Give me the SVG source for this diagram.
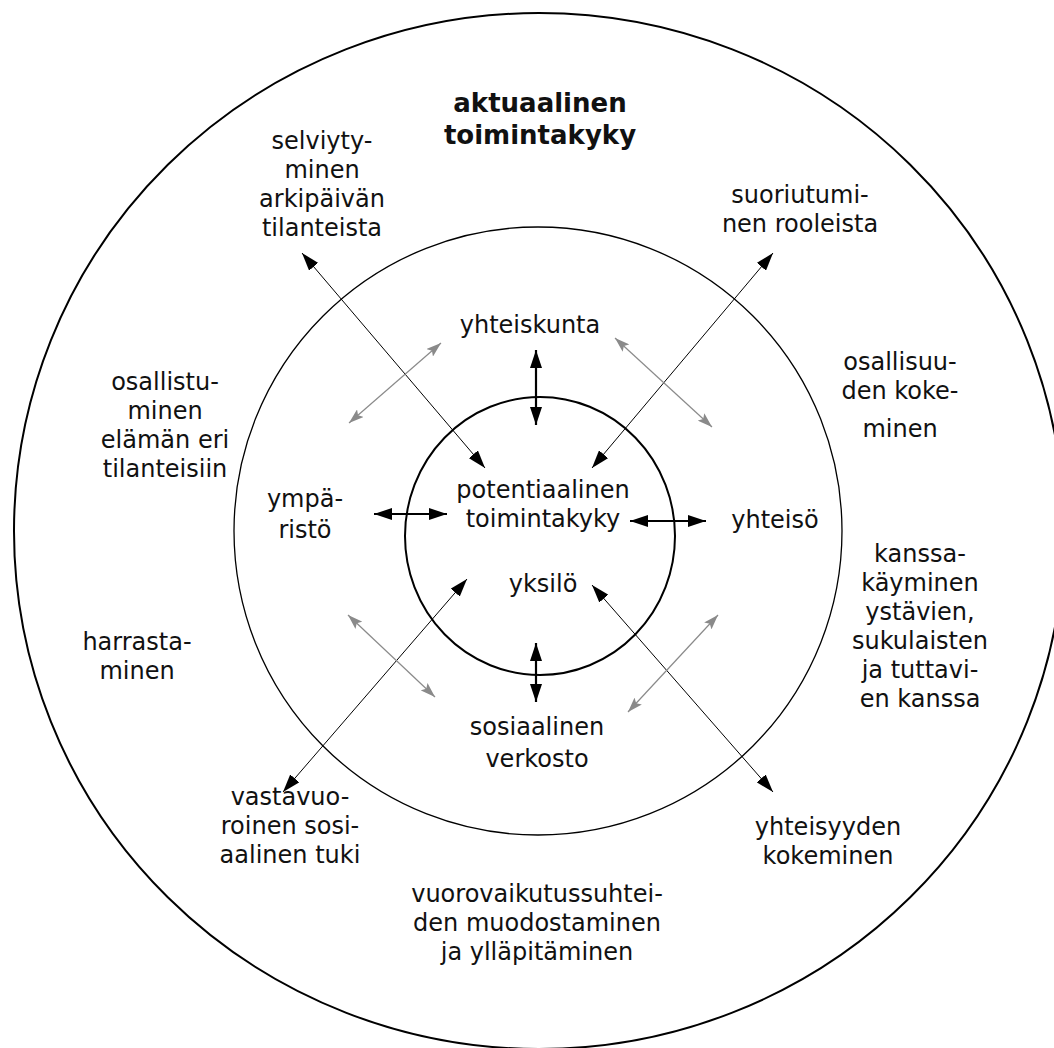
<svg xmlns="http://www.w3.org/2000/svg" width="1054" height="1048" viewBox="0 0 1054 1048">
<style>
text{font-family:"DejaVu Sans","Liberation Sans",sans-serif;font-size:24px;fill:#111;text-anchor:middle}
.title{font-weight:bold;font-size:26px}
.ring{fill:none;stroke:#000}
.blk{stroke:#000;stroke-width:1;fill:none;marker-start:url(#hb);marker-end:url(#hb)}
.thick{stroke:#000;stroke-width:2.2;fill:none;marker-start:url(#hb);marker-end:url(#hb)}
.gry{stroke:#8a8a8a;stroke-width:1.2;fill:none;marker-start:url(#hg);marker-end:url(#hg)}
</style>
<defs>
<marker id="hb" viewBox="0 0 18 12" refX="18" refY="6" markerWidth="18" markerHeight="12" markerUnits="userSpaceOnUse" orient="auto-start-reverse"><path d="M0,0 L18,6 L0,12 z" fill="#000"/></marker>
<marker id="hg" viewBox="0 0 15 10" refX="15" refY="5" markerWidth="15" markerHeight="10" markerUnits="userSpaceOnUse" orient="auto-start-reverse"><path d="M0,0 L15,5 L0,10 L3,5 z" fill="#8a8a8a"/></marker>
</defs>
<rect width="1054" height="1048" fill="#fff"/>
<g id="rings">
<ellipse id="outer" class="ring" cx="539" cy="531" rx="525" ry="518" stroke-width="2"/>
<circle id="middle" class="ring" cx="538" cy="531" r="304" stroke-width="1.3"/>
<ellipse id="inner" class="ring" cx="540" cy="536" rx="135" ry="139" stroke-width="2"/>
</g>
<g id="connectors">
<line class="blk" x1="302" y1="253" x2="485" y2="468"/>
<line class="blk" x1="773" y1="253" x2="592" y2="468"/>
<line class="blk" x1="467" y1="579" x2="283" y2="792"/>
<line class="blk" x1="592" y1="585" x2="773" y2="792"/>
<line class="thick" x1="536" y1="350" x2="536" y2="425"/>
<line class="thick" x1="536" y1="643" x2="536" y2="702"/>
<line class="thick" x1="374" y1="514" x2="447" y2="514"/>
<line class="thick" x1="630" y1="521" x2="706" y2="521"/>
<line class="gry" x1="349" y1="423" x2="441" y2="343"/>
<line class="gry" x1="615" y1="338" x2="712" y2="427"/>
<line class="gry" x1="348" y1="615" x2="435" y2="697"/>
<line class="gry" x1="718" y1="615" x2="628" y2="712"/>
</g>
<g id="n-aktuaalinen"><text class="title" x="540" y="112">aktuaalinen</text><text class="title" x="540" y="144">toimintakyky</text></g>
<g id="n-selviytyminen"><text x="322" y="149">selviyty-</text><text x="322" y="178">minen</text><text x="322" y="207">arkipäivän</text><text x="322" y="236">tilanteista</text></g>
<g id="n-suoriutuminen"><text x="800" y="203">suoriutumi-</text><text x="800" y="232">nen rooleista</text></g>
<g id="n-yhteiskunta"><text x="530" y="333">yhteiskunta</text></g>
<g id="n-osallistuminen"><text x="165" y="390">osallistu-</text><text x="165" y="419">minen</text><text x="165" y="448">elämän eri</text><text x="165" y="477">tilanteisiin</text></g>
<g id="n-osallisuus"><text x="900" y="370">osallisuu-</text><text x="900" y="399">den koke-</text><text x="900" y="437">minen</text></g>
<g id="n-ymparisto"><text x="305" y="507">ympä-</text><text x="305" y="538">ristö</text></g>
<g id="n-potentiaalinen"><text x="543" y="498">potentiaalinen</text><text x="543" y="527">toimintakyky</text></g>
<g id="n-yhteiso"><text x="775" y="528">yhteisö</text></g>
<g id="n-yksilo"><text x="543" y="592">yksilö</text></g>
<g id="n-kanssakayminen"><text x="920" y="562">kanssa-</text><text x="920" y="591">käyminen</text><text x="920" y="620">ystävien,</text><text x="920" y="649">sukulaisten</text><text x="920" y="678">ja tuttavi-</text><text x="920" y="707">en kanssa</text></g>
<g id="n-harrastaminen"><text x="137" y="650">harrasta-</text><text x="137" y="679">minen</text></g>
<g id="n-sosiaalinen"><text x="537" y="735">sosiaalinen</text><text x="537" y="767">verkosto</text></g>
<g id="n-vastavuoroinen"><text x="290" y="805">vastavuo-</text><text x="290" y="834">roinen sosi-</text><text x="290" y="863">aalinen tuki</text></g>
<g id="n-yhteisyys"><text x="828" y="835">yhteisyyden</text><text x="828" y="864">kokeminen</text></g>
<g id="n-vuorovaikutus"><text x="537" y="902">vuorovaikutussuhtei-</text><text x="537" y="931">den muodostaminen</text><text x="537" y="960">ja ylläpitäminen</text></g>
</svg>
